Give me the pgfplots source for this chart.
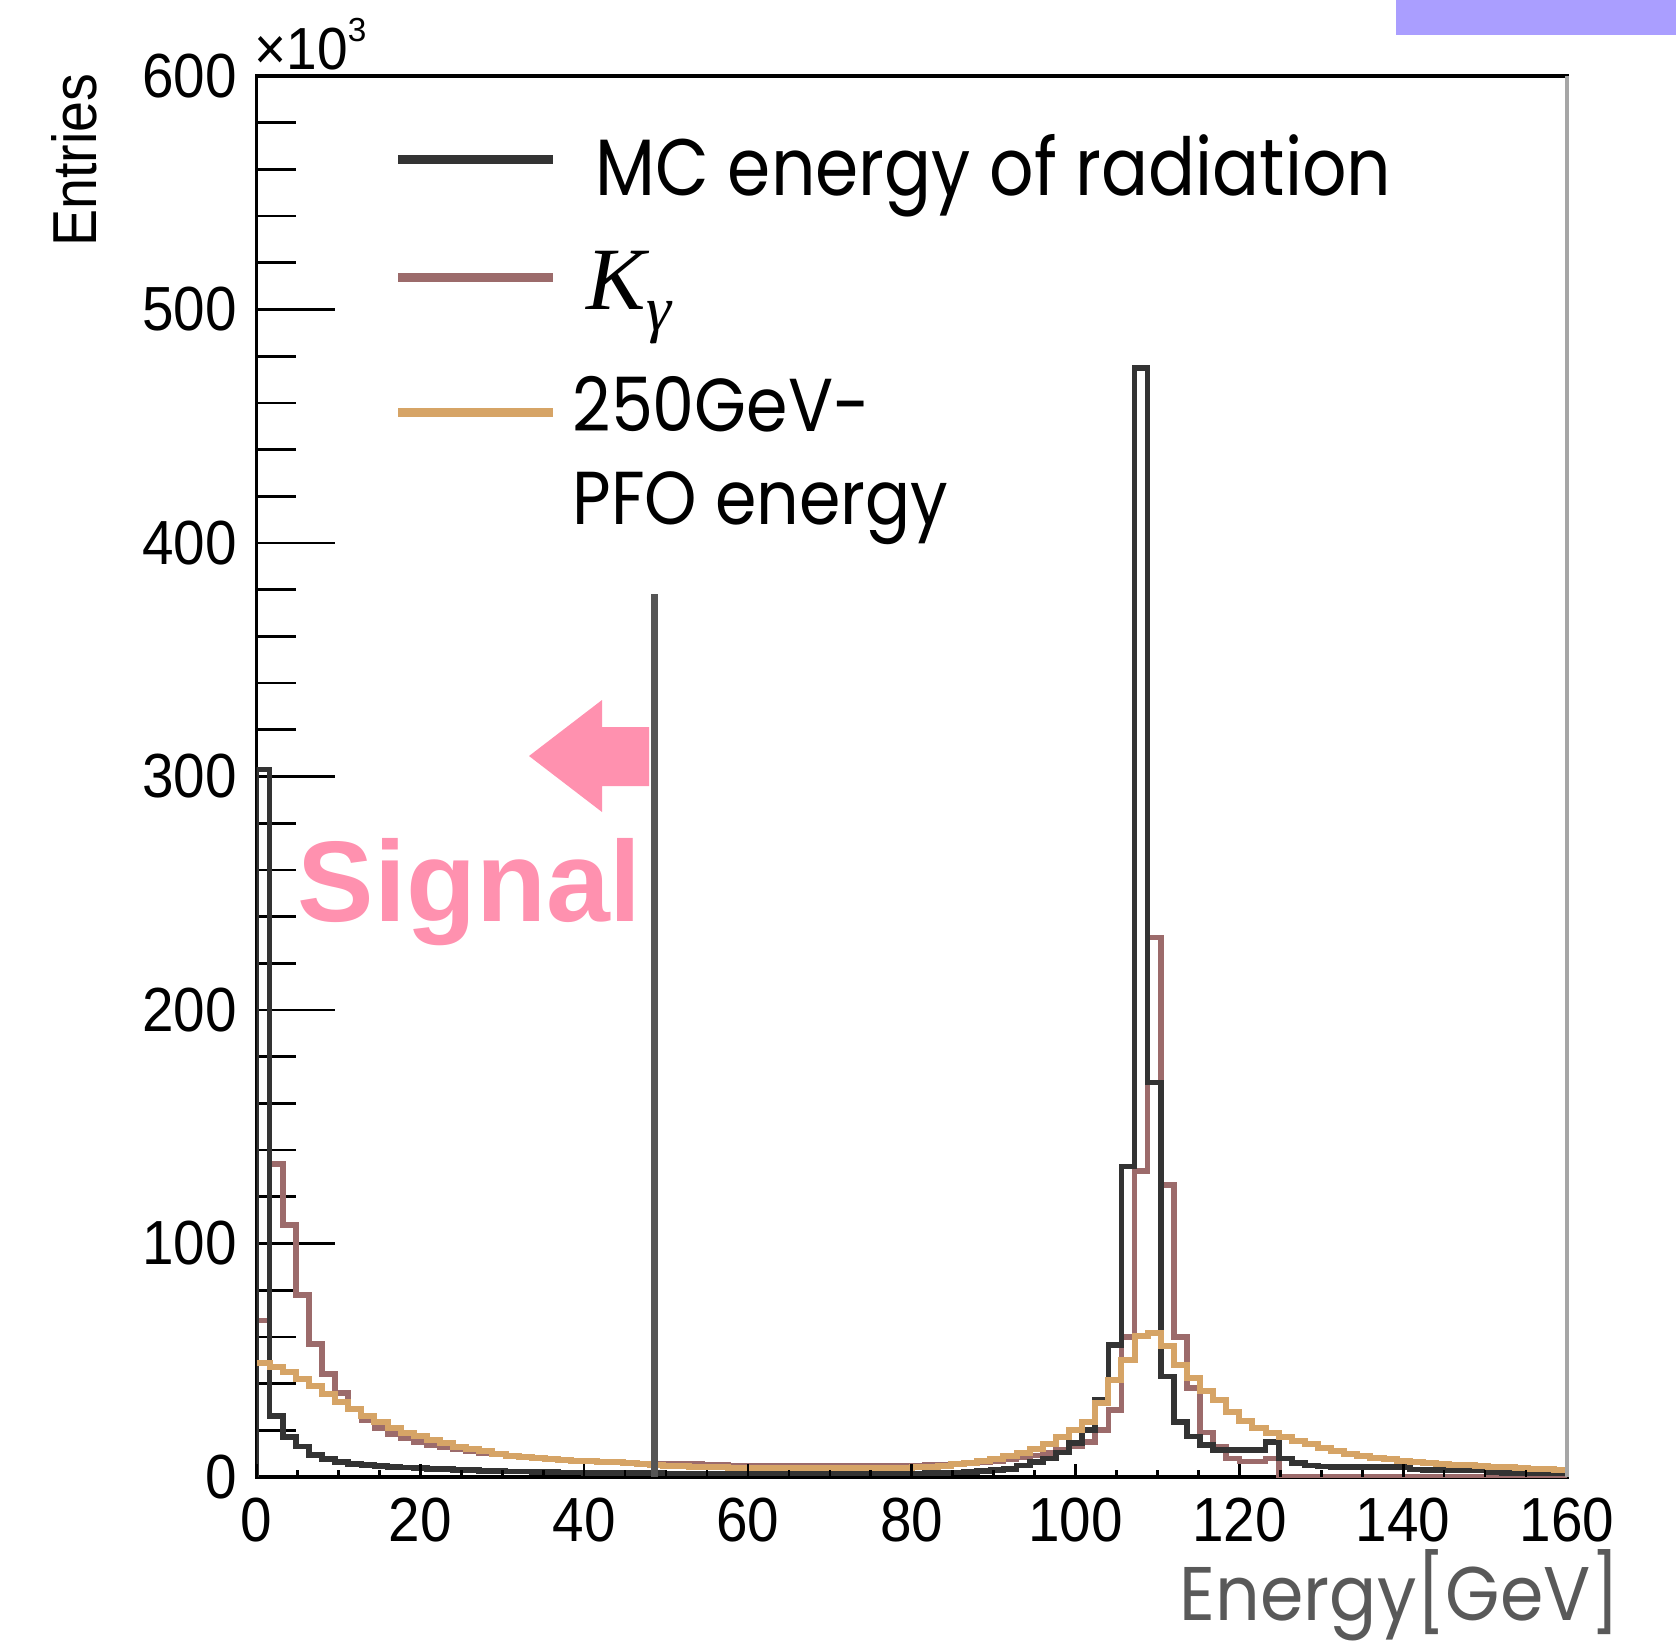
\documentclass[border=0pt]{standalone}
\usepackage{pgfplots}
\pgfplotsset{compat=1.18}
\usepackage{pgfplotstable}
\usepackage{graphicx}
\usepackage{fontspec}
\setmainfont{Liberation Sans}
\newfontfamily\poppins{Poppins}
\newfontfamily\timesfont{Liberation Serif}

\definecolor{mcblack}{HTML}{333333}
\definecolor{kgbrown}{HTML}{9C6B6B}
\definecolor{pfotan}{HTML}{D6A466}
\definecolor{cutgray}{HTML}{555555}
\definecolor{signalpink}{HTML}{FF91AF}
\definecolor{barpurple}{HTML}{AA9EFF}
\definecolor{labelgray}{HTML}{595959}

% 100 bins of 1.6 GeV; columns: bin index, MC radiation energy, K_gamma, PFO energy (x10^3 entries)
\pgfplotstableread{
bin mc kg pfo
0 0 0 0
0 303 67 49
1 26 134 47
2 17 108 45
3 13 78 42
4 9.5 57 39
5 7.7 44 35.5
6 6.5 36 32
7 5.7 29 29
8 5.1 24.5 26
9 4.7 21 23.5
10 4.4 18.5 21
11 4.1 16.5 19
12 3.8 15 17.5
13 3.5 13.8 16
14 3.3 12.8 14.5
15 3.1 11.8 13
16 2.9 11 12
17 2.7 10.3 11
18 2.5 9.6 10
19 2.4 9.0 9.2
20 2.3 8.5 8.6
21 2.2 8.0 8.1
22 2.1 7.6 7.7
23 2.0 7.2 7.3
24 1.9 6.9 7.0
25 1.85 6.6 6.8
26 1.8 6.4 6.6
27 1.75 6.2 6.3
28 1.7 6.0 6.0
29 1.65 5.8 5.6
30 1.6 5.6 5.2
31 1.55 5.5 4.9
32 1.5 5.8 4.6
33 1.5 5.8 4.4
34 1.5 5.4 4.2
35 1.5 5.1 4.1
36 1.5 5.0 4.0
37 1.5 4.9 3.9
38 1.5 4.8 3.9
39 1.5 4.8 3.8
40 1.5 4.7 3.8
41 1.5 4.7 3.8
42 1.5 4.6 3.8
43 1.5 4.6 3.8
44 1.5 4.6 3.8
45 1.5 4.6 3.8
46 1.5 4.6 3.8
47 1.5 4.7 3.9
48 1.5 4.8 3.9
49 1.5 4.9 4.0
50 1.5 5.0 4.2
51 1.6 5.2 4.5
52 1.7 5.4 4.9
53 1.9 5.6 5.4
54 2.2 6.0 6.1
55 2.5 6.5 6.9
56 3.0 7.0 7.8
57 3.5 7.6 9.0
58 5.0 8.3 10.4
59 6.5 9.2 12.1
60 8.0 10.3 14.3
61 10.5 11.6 17.0
62 14.5 13.2 20.0
63 20 15 23.5
64 33 20 31.6
65 56.5 28.7 41.5
66 133 60 50
67 475 131 60.5
68 169 231 61.5
69 43 125 56
70 23.7 60 48
71 17.3 38 42.5
72 13.7 19 37
73 11.6 13 33
74 11.6 8 28
75 11.6 6.6 24
76 11.6 6.6 21
77 15 8 19
78 8 0 17
79 6 0 15.5
80 5 0 14
81 4.5 0 12.5
82 4.4 0 11
83 4.4 0 10
84 4.4 0 9
85 4.4 0 8.3
86 4.4 0 7.6
87 4.2 0 7
88 3.2 0 6.5
89 3 0 6
90 3 0 5.6
91 3 0 5.2
92 3 0 5.0
93 2.9 0 4.7
94 2 0 4.4
95 1.8 0 4.1
96 1.8 0 3.8
97 1.7 0 3.6
98 1.7 0 3.3
99 1.6 0 2.9
100 1.6 0 2.9
}\histdata

\begin{document}
\begin{tikzpicture}
\path[use as bounding box] (0,0) rectangle (502.8pt,493.5pt);

\begin{axis}[
  at={(76.95pt,50.4pt)}, anchor=south west,
  scale only axis, width=393.15pt, height=420.3pt,
  xmin=0, xmax=160, ymin=0, ymax=600,
  xtick={0,20,...,160}, ytick={0,100,...,600},
  minor y tick num=4,
  tick align=inside, tick pos=left,
  major tick length=23.4pt, minor tick length=11.9pt,
  xtick style={draw=none},
  ytick style={black, line width=0.8pt},
  axis line style={black, line width=1pt},
  /pgf/number format/assume math mode=true,
  tick label style={font=\fontsize{17pt}{17pt}\selectfont, text=black},
  xticklabel={\scalebox{1}[1.1]{\pgfmathprintnumber{\tick}}},
  yticklabel={\scalebox{1}[1.1]{\pgfmathprintnumber{\tick}}},
  yticklabel style={anchor=east, inner sep=0pt, xshift=-5.7pt},
  xticklabel style={anchor=north, inner sep=0pt, yshift=-6pt},
  scaled y ticks=false,
]
\addplot[const plot mark left, kgbrown, line width=1.7pt]
  table[x expr=\thisrow{bin}*1.6, y=kg, skip coords between index={0}{1}] {\histdata};
\addplot[const plot mark left, mcblack, line width=1.7pt]
  table[x expr=\thisrow{bin}*1.6, y=mc] {\histdata};
\addplot[const plot mark left, pfotan, line width=1.8pt]
  table[x expr=\thisrow{bin}*1.6, y=pfo, skip coords between index={0}{1}] {\histdata};
% selection cut on the radiation energy
\addplot[cutgray, line width=2pt] coordinates {(48.6,0) (48.6,378)};
\end{axis}

% short x ticks, drawn by a second axis of the same geometry
\begin{axis}[
  at={(76.95pt,50.4pt)}, anchor=south west,
  scale only axis, width=393.15pt, height=420.3pt,
  xmin=0, xmax=160, ymin=0, ymax=600,
  xtick={0,20,...,160}, minor x tick num=3, ytick=\empty,
  xticklabels={},
  tick align=inside, tick pos=left,
  major tick length=3.9pt, minor tick length=2pt,
  xtick style={black, line width=0.8pt},
  axis line style={draw=none},
]
\end{axis}

\begin{scope}[x=0.3pt, y=-0.3pt, shift={(0,493.5pt)}]
  % right frame edge is lighter
  \draw[black!35, line width=1.2pt] (1567,76) -- (1567,1477);
  % exponent and y title
  \node[anchor=base west, inner sep=0pt, font=\fontsize{16.5pt}{16.5pt}\selectfont]
    at (254,70) {\scalebox{1}[1.08]{×10}\raisebox{8.5pt}{\fontsize{10pt}{10pt}\selectfont 3}};
  \node[anchor=south east, rotate=90, inner sep=0pt]
    at (98,73) {\resizebox{51.9pt}{13.5pt}{Entries}};
  % legend
  \draw[mcblack, line width=2.7pt] (398,160) -- (553,160);
  \draw[kgbrown, line width=2.7pt] (398,278) -- (553,278);
  \draw[pfotan, line width=2.7pt] (398,412) -- (553,412);
  \node[anchor=base west, inner sep=0pt, font=\poppins\fontsize{24pt}{24pt}\selectfont]
    at (595,196) {\scalebox{0.87}[1]{MC energy of radiation}};
  \node[anchor=base west, inner sep=0pt, font=\timesfont\itshape\fontsize{26.7pt}{26.7pt}\selectfont]
    at (586,310) {K\raisebox{-6pt}{\fontsize{19pt}{19pt}\selectfont γ}};
  \node[anchor=base west, inner sep=0pt, font=\poppins\fontsize{22.5pt}{22.5pt}\selectfont]
    at (572,431) {\scalebox{0.89}[1]{250GeV-}};
  \node[anchor=base west, inner sep=0pt, font=\poppins\fontsize{22.5pt}{22.5pt}\selectfont]
    at (572,524) {\scalebox{0.89}[1]{PFO energy}};
  % signal region marker
  \fill[signalpink] (529,756) -- (602,700) -- (602,727) -- (649,727)
    -- (649,786) -- (602,786) -- (602,812) -- cycle;
  \node[anchor=base west, inner sep=0pt, text=signalpink,
    font=\bfseries\fontsize{34.4pt}{34.4pt}\selectfont] at (297,921) {Signal};
  % x title
  \node[anchor=base west, inner sep=0pt, text=labelgray,
    font=\poppins\fontsize{22.8pt}{22.8pt}\selectfont] at (1179,1620) {\scalebox{0.92}[1]{Energy[GeV]}};
  % corner bar
  \fill[barpurple] (1396,0) rectangle (1676,35);
\end{scope}
\end{tikzpicture}
\end{document}
